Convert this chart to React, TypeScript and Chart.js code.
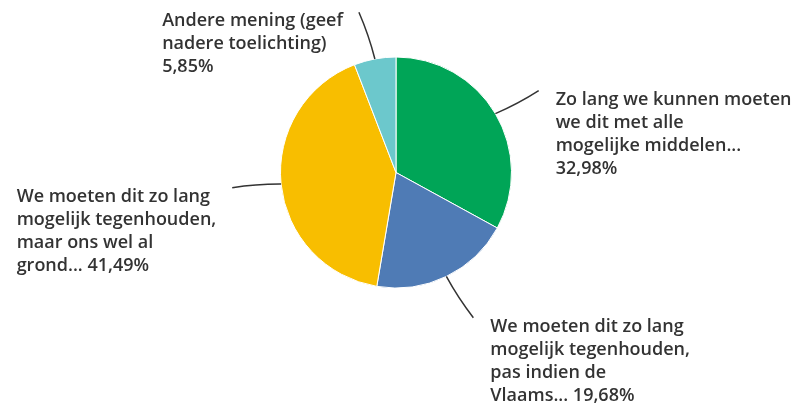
import React, { useEffect, useRef } from "react";
import { Chart, registerables } from "chart.js";

Chart.register(...registerables);

const categories = [
  "Zo lang we kunnen moeten\nwe dit met alle\nmogelijke middelen...",
  "We moeten dit zo lang\nmogelijk tegenhouden,\npas indien de\nVlaams...",
  "We moeten dit zo lang\nmogelijk tegenhouden,\nmaar ons wel al\ngrond...",
  "Andere mening (geef\nnadere toelichting)",
];
const percentages = [32.98, 19.68, 41.49, 5.85];
const colors = ["#00A557", "#4F7BB5", "#F8BE00", "#6CC8CC"];

const FONT = '600 18px "Open Sans", sans-serif';
const LINE_H = 23;

const fmt = (v: number) => v.toFixed(2).replace(".", ",") + "%";

const leaderPlugin = {
  id: "leaderLabels",
  afterDraw(chart: any, _args: any, opts: any) {
    const ctx = chart.ctx as CanvasRenderingContext2D;
    const meta = chart.getDatasetMeta(0);
    const shifts: number[] = opts.angleShift || [];
    ctx.save();
    ctx.font = FONT;
    meta.data.forEach((arc: any, i: number) => {
      const p = arc.getProps(["x", "y", "startAngle", "endAngle", "outerRadius"], true);
      const mid = (p.startAngle + p.endAngle) / 2;
      const c = Math.cos(mid);
      const s = Math.sin(mid);
      const r = p.outerRadius;
      const sx = p.x + c * r;
      const sy = p.y + s * r;
      const endAng = mid + ((shifts[i] || 0) * Math.PI) / 180;
      const ext = 49;
      const ex = p.x + Math.cos(endAng) * (r + ext);
      const ey = p.y + Math.sin(endAng) * (r + ext);
      const bend = 2;
      const cx = (sx + ex) / 2 - s * bend;
      const cy = (sy + ey) / 2 + c * bend;
      ctx.strokeStyle = "#333";
      ctx.lineWidth = 1.5;
      ctx.beginPath();
      ctx.moveTo(sx, sy);
      ctx.quadraticCurveTo(cx, cy, ex, ey);
      ctx.stroke();

      const lines = categories[i].split("\n");
      const pct = fmt(percentages[i]);
      const maxW = Math.max(...lines.map((l) => ctx.measureText(l).width));
      const last = lines[lines.length - 1] + " " + pct;
      if (ctx.measureText(last).width <= maxW) lines[lines.length - 1] = last;
      else lines.push(pct);
      const blockW = Math.max(...lines.map((l) => ctx.measureText(l).width));
      const left = c >= 0 ? ex + 17 : ex - 16 - blockW;
      const top = ey + 14;
      ctx.fillStyle = "#333";
      ctx.textAlign = "left";
      ctx.textBaseline = "alphabetic";
      lines.forEach((l, k) => ctx.fillText(l, left, top + k * LINE_H));
    });
    ctx.restore();
  },
};

export default function App() {
  const ref = useRef<HTMLCanvasElement>(null);
  useEffect(() => {
    document.body.style.margin = "0";
    const chart = new Chart(ref.current!, {
      type: "pie",
      data: {
        labels: categories,
        datasets: [
          {
            data: percentages,
            backgroundColor: colors,
            borderColor: "#fff",
            borderWidth: 1,
          },
        ],
      },
      options: {
        animation: false,
        responsive: false,
        layout: { padding: { top: 56.5, bottom: 114.5, left: 0, right: 2 } },
        plugins: {
          legend: { display: false },
          tooltip: { enabled: false },
          leaderLabels: { angleShift: [0.8, -2.2, 0.4, -2.5] },
        } as any,
      },
      plugins: [leaderPlugin],
    });
    return () => chart.destroy();
  }, []);
  return (
    <div style={{ width: 794, height: 403, background: "#fff" }}>
      <canvas ref={ref} width={794} height={403} />
    </div>
  );
}
